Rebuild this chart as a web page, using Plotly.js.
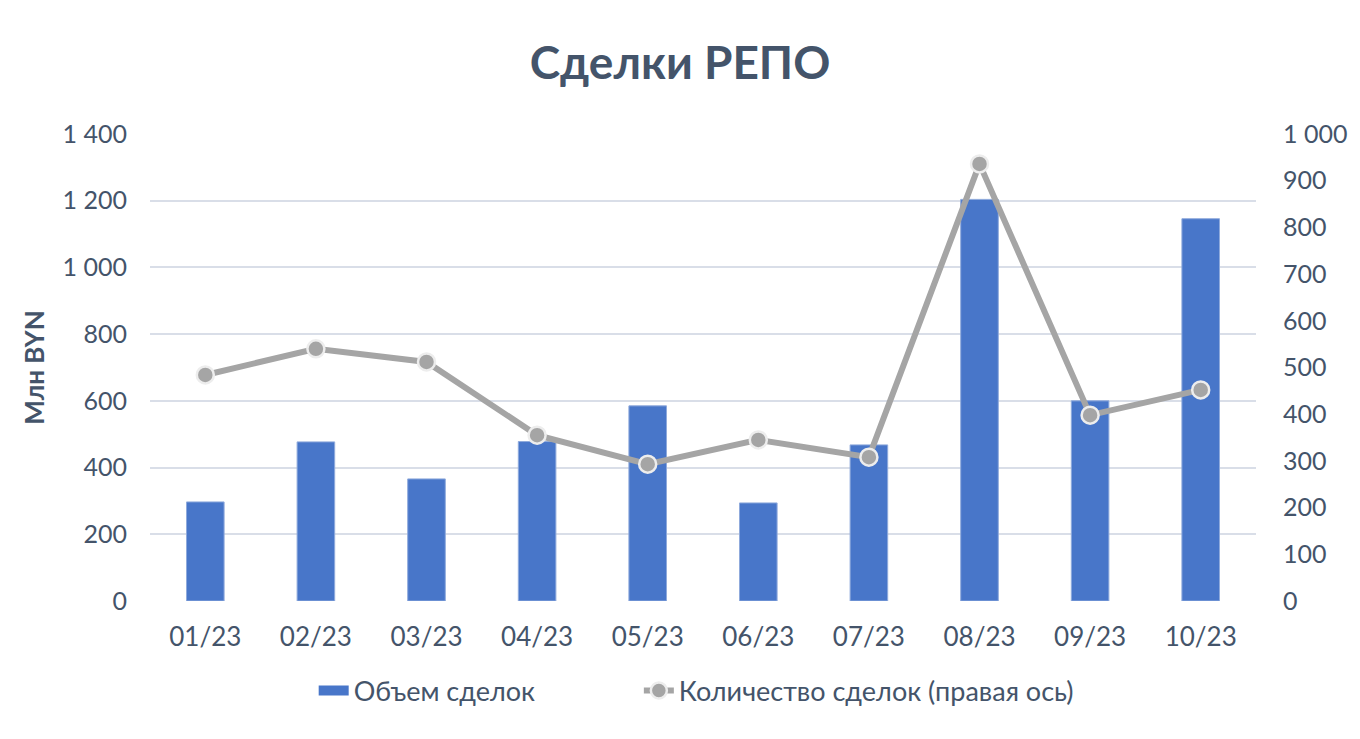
<!DOCTYPE html>
<html>
<head>
<meta charset="utf-8">
<script src="https://cdn.plot.ly/plotly-3.0.1.min.js"></script>
<style>html,body{margin:0;padding:0;background:#fff;}#chart{width:1360px;height:739px;}</style>
</head>
<body>
<div id="chart"></div>
<script>
var categories = ["01/23","02/23","03/23","04/23","05/23","06/23","07/23","08/23","09/23","10/23"];
var volume = [297, 477, 366, 478, 585, 294, 468, 1204, 600, 1146];
var deals = [484, 540, 512, 355, 293, 345, 308, 936, 398, 452];
var leftTicks = [0, 200, 400, 600, 800, 1000, 1200, 1400];
var rightTicks = [0, 100, 200, 300, 400, 500, 600, 700, 800, 900, 1000];

var fontFam = "Lato, 'Open Sans', sans-serif";
var textColor = "#44546A";

var traces = [
  {
    type: "bar",
    name: "Объем сделок",
    x: categories,
    y: volume,
    yaxis: "y",
    marker: {color: "#4876C9", line: {color: "#8FAADC", width: 1}},
    width: 0.34,
    showlegend: false,
    hoverinfo: "x+y"
  },
  {
    type: "scatter",
    mode: "lines",
    name: "Объем сделок",
    legend: "legend",
    x: categories,
    y: categories.map(function(){ return null; }),
    yaxis: "y",
    line: {color: "#4876C9", width: 15},
    hoverinfo: "skip"
  },
  {
    type: "scatter",
    mode: "lines+markers",
    name: "Количество сделок (правая ось)",
    legend: "legend2",
    x: categories,
    y: deals,
    yaxis: "y2",
    line: {color: "#A5A5A5", width: 6},
    marker: {size: 17, color: "#A5A5A5", line: {color: "#EDEDED", width: 2.5}},
    hoverinfo: "x+y"
  }
];

var legendFont = {size: 27, color: textColor, family: fontFam};

var layout = {
  width: 1360,
  height: 739,
  paper_bgcolor: "#ffffff",
  plot_bgcolor: "#ffffff",
  separators: ", ",
  margin: {l: 150, r: 104, t: 134, b: 138},
  font: {family: fontFam, color: textColor, size: 26},
  title: {
    text: "<b>Сделки РЕПО</b>",
    font: {family: fontFam, size: 46, color: textColor},
    x: 0.5, xanchor: "center",
    y: 0.915, yanchor: "middle"
  },
  xaxis: {
    type: "category",
    range: [-0.5, 9.5],
    automargin: false,
    tickfont: {size: 26, color: textColor, family: fontFam},
    showgrid: false,
    showline: false,
    zeroline: false,
    ticks: "",
    ticklabelstandoff: 18
  },
  yaxis: {
    range: [0, 1400],
    automargin: false,
    tickvals: leftTicks,
    tickformat: ",d",
    tickfont: {size: 25, color: textColor, family: fontFam},
    gridcolor: "#D9DEE8",
    gridwidth: 2,
    zeroline: false,
    showline: false,
    ticks: "",
    ticklabelstandoff: 22,
    title: {text: "<b>Млн BYN</b>", font: {size: 26, color: textColor, family: fontFam}, standoff: 10}
  },
  yaxis2: {
    overlaying: "y",
    side: "right",
    automargin: false,
    range: [0, 1000],
    tickvals: rightTicks,
    tickformat: ",d",
    tickfont: {size: 25, color: textColor, family: fontFam},
    showgrid: false,
    zeroline: false,
    showline: false,
    ticks: "",
    ticklabelstandoff: 26
  },
  showlegend: true,
  legend: {
    orientation: "h",
    x: 0.148, xanchor: "left",
    y: -0.14, yanchor: "top",
    font: legendFont
  },
  legend2: {
    orientation: "h",
    x: 0.442, xanchor: "left",
    y: -0.14, yanchor: "top",
    font: legendFont
  }
};

Plotly.newPlot("chart", traces, layout, {displayModeBar: false, staticPlot: true});
</script>
</body>
</html>
